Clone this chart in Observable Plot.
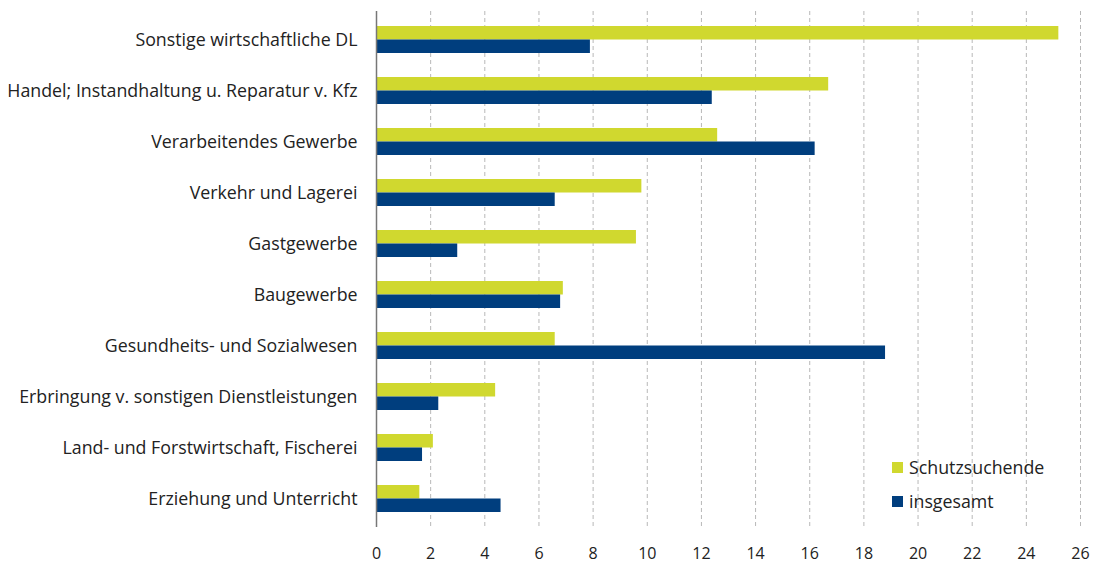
<!DOCTYPE html>
<html>
<head>
<meta charset="utf-8">
<script src="https://cdn.jsdelivr.net/npm/d3@7"></script>
<script src="https://cdn.jsdelivr.net/npm/@observablehq/plot@0.6"></script>
<style>
  html, body { margin: 0; padding: 0; background: #fff; }
  #wrap { position: relative; width: 1096px; height: 564px; font-family: "Open Sans", sans-serif; }
  #legend { position: absolute; left: 892px; top: 450px; font-size: 17.8px; color: #222; }
  .li { display: flex; align-items: center; height: 34px; }
  .sw { width: 11px; height: 11px; margin-right: 6px; }
</style>
</head>
<body>
<div id="wrap">
  <div id="chart"></div>
  <div id="legend"></div>
</div>
<script>
const categories = [
  "Sonstige wirtschaftliche DL",
  "Handel; Instandhaltung u. Reparatur v. Kfz",
  "Verarbeitendes Gewerbe",
  "Verkehr und Lagerei",
  "Gastgewerbe",
  "Baugewerbe",
  "Gesundheits- und Sozialwesen",
  "Erbringung v. sonstigen Dienstleistungen",
  "Land- und Forstwirtschaft, Fischerei",
  "Erziehung und Unterricht"
];
const schutzsuchende = [25.2, 16.7, 12.6, 9.8, 9.6, 6.9, 6.6, 4.4, 2.1, 1.6];
const insgesamt = [7.9, 12.4, 16.2, 6.6, 3.0, 6.8, 18.8, 2.3, 1.7, 4.6];
const seriesNames = ["Schutzsuchende", "insgesamt"];
const seriesColors = ["#d0d82f", "#003e7e"];
const xTicks = [0, 2, 4, 6, 8, 10, 12, 14, 16, 18, 20, 22, 24, 26];

const dataS = categories.map((c, i) => ({category: c, value: schutzsuchende[i]}));
const dataI = categories.map((c, i) => ({category: c, value: insgesamt[i]}));

const chart = Plot.plot({
  width: 1096,
  height: 564,
  marginLeft: 376,
  marginRight: 16,
  marginTop: 11,
  marginBottom: 37,
  style: {fontFamily: "'Open Sans', sans-serif", background: "#fff"},
  x: {domain: [0, 26], ticks: xTicks},
  y: {domain: categories, paddingInner: 0.474, paddingOuter: 0.25},
  marks: [
    Plot.gridX(xTicks.filter(d => d > 0), {stroke: "#b8b8b8", strokeOpacity: 1, strokeDasharray: "4,3", strokeWidth: 1}),
    Plot.barX(dataS, {x: "value", y: "category", fill: seriesColors[0], insetBottom: 13.5}),
    Plot.barX(dataI, {x: "value", y: "category", fill: seriesColors[1], insetTop: 13.5}),
    Plot.ruleX([0], {stroke: "#777", strokeWidth: 1.5}),
    Plot.axisX({ticks: xTicks, tickSize: 0, tickPadding: 20, fontSize: 16, fill: "#222", label: null}),
    Plot.axisY({tickSize: 0, tickPadding: 19, fontSize: 17.8, fill: "#222", label: null})
  ]
});
document.getElementById("chart").appendChild(chart);

const legend = document.getElementById("legend");
seriesNames.forEach((n, i) => {
  const row = document.createElement("div");
  row.className = "li";
  const sw = document.createElement("div");
  sw.className = "sw";
  sw.style.background = seriesColors[i];
  const t = document.createElement("span");
  t.textContent = n;
  row.appendChild(sw);
  row.appendChild(t);
  legend.appendChild(row);
});
</script>
</body>
</html>
